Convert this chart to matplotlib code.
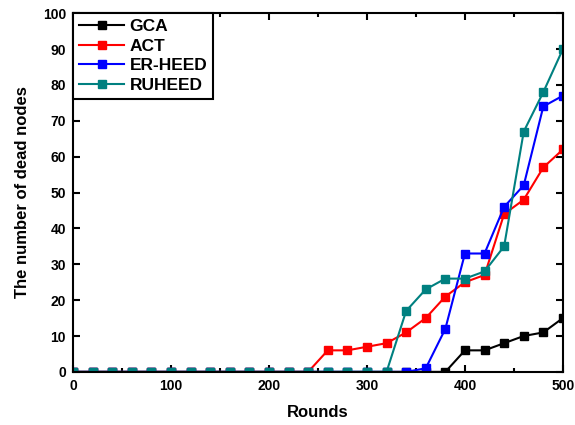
import matplotlib.pyplot as plt
from matplotlib.ticker import MultipleLocator

plt.rcParams['font.family'] = ['Liberation Sans', 'DejaVu Sans']
plt.rcParams['font.weight'] = 'bold'

rounds = list(range(0, 501, 20))

gca = [0]*20 + [6, 6, 8, 10, 11, 15]
act = [0]*13 + [6, 6, 7, 8, 11, 15, 21, 25, 27, 44, 48, 57, 62]
er_heed = [0]*18 + [1, 12, 33, 33, 46, 52, 74, 77]
ruheed = [0]*17 + [17, 23, 26, 26, 28, 35, 67, 78, 90]

series = [('GCA', gca, 'black'),
          ('ACT', act, 'red'),
          ('ER-HEED', er_heed, 'blue'),
          ('RUHEED', ruheed, '#008080')]

fig = plt.figure(figsize=(5.75, 4.25), dpi=100)
ax = fig.add_axes([0.127, 0.125, 0.852, 0.844])

for name, vals, col in series:
    ax.plot(rounds, vals, color=col, marker='s', markersize=6.2,
            linewidth=1.5, label=name, zorder=3)

ax.set_xlim(0, 500)
ax.set_ylim(0, 100)
ax.xaxis.set_major_locator(MultipleLocator(100))
ax.xaxis.set_minor_locator(MultipleLocator(50))
ax.yaxis.set_major_locator(MultipleLocator(10))
ax.tick_params(which='both', direction='in', top=True, right=True, width=1.5,
               labelsize=10)
ax.tick_params(which='major', length=5, pad=5)
ax.tick_params(which='minor', length=3)
for sp in ax.spines.values():
    sp.set_linewidth(1.5)
    sp.set_zorder(5)

ax.set_xlabel('Rounds', fontsize=12, fontweight='bold', labelpad=9)
ax.set_ylabel('The number of dead nodes', fontsize=12, fontweight='bold',
              labelpad=9)

leg = ax.legend(loc='upper left', fontsize=12.5, fancybox=False, framealpha=1,
                edgecolor='black', borderaxespad=0, handlelength=2.6,
                labelspacing=0.25, handletextpad=0.3, borderpad=0.35)
leg.get_frame().set_linewidth(1.5)

fig.savefig('out.png', dpi=100)
